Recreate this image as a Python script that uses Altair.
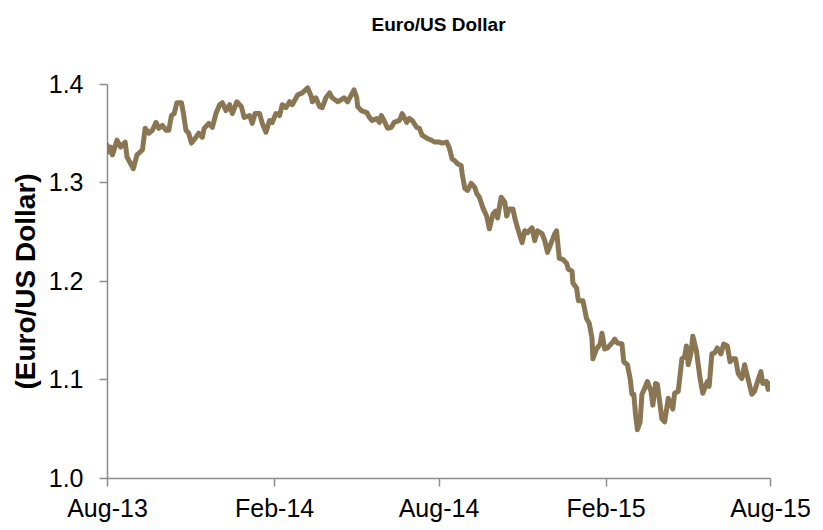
import altair as alt
import pandas as pd

# Days since 2013-08-01
days = [0, 2, 4, 6, 11, 15, 20, 22, 29, 33, 39, 42, 46, 50, 54, 57, 61, 65, 68, 71,
        74, 77, 82, 84, 87, 90, 93, 98, 101, 105, 107, 112, 116, 120, 124, 127, 131, 135, 138, 143,
        148, 151, 157, 160, 163, 168, 171, 175, 179, 182, 186, 190, 193, 197, 201, 204, 210, 215, 221, 225,
        226, 230, 234, 237, 241, 245, 248, 254, 258, 261, 265, 269, 272, 275, 276, 280, 286, 289, 292, 297,
        300, 302, 305, 309, 313, 316, 322, 325, 330, 333, 336, 341, 344, 347, 352, 357, 361, 366, 369, 374,
        377, 380, 383, 386, 390, 391, 394, 397, 401, 405, 407, 410, 414, 418, 421, 425, 428, 430, 434, 438,
        440, 443, 447, 449, 452, 457, 460, 463, 468, 471, 474, 479, 482, 485, 490, 493, 495, 498, 502, 506,
        508, 512, 513, 517, 519, 524, 528, 531, 534, 535, 539, 543, 545, 548, 551, 556, 559, 562, 567, 569,
        573, 576, 578, 580, 582, 584, 587, 589, 592, 595, 599, 601, 604, 606, 611, 614, 618, 621, 623, 625,
        629, 633, 636, 638, 640, 643, 645, 649, 653, 656, 661, 663, 666, 669, 672, 676, 679, 683, 686, 689,
        692, 695, 699, 702, 706, 710, 713, 717, 720, 722, 726, 728, 730]

rate = [1.338, 1.331, 1.336, 1.328, 1.343, 1.336, 1.341, 1.326, 1.314, 1.328, 1.333, 1.355, 1.350, 1.353, 1.361, 1.355, 1.358, 1.353, 1.353, 1.368,
        1.370, 1.381, 1.381, 1.371, 1.353, 1.350, 1.340, 1.346, 1.350, 1.346, 1.355, 1.360, 1.356, 1.370, 1.379, 1.381, 1.373, 1.379, 1.370, 1.382,
        1.377, 1.366, 1.368, 1.360, 1.370, 1.370, 1.360, 1.351, 1.363, 1.361, 1.370, 1.368, 1.379, 1.376, 1.382, 1.379, 1.389, 1.391, 1.396, 1.387,
        1.382, 1.386, 1.377, 1.376, 1.386, 1.391, 1.386, 1.382, 1.384, 1.386, 1.382, 1.389, 1.394, 1.386, 1.377, 1.373, 1.371, 1.366, 1.363, 1.365,
        1.361, 1.368, 1.363, 1.355, 1.356, 1.361, 1.363, 1.370, 1.361, 1.365, 1.363, 1.356, 1.355, 1.348, 1.345, 1.343, 1.341, 1.341, 1.340, 1.341,
        1.335, 1.324, 1.322, 1.319, 1.317, 1.309, 1.294, 1.292, 1.299, 1.295, 1.289, 1.285, 1.274, 1.266, 1.253, 1.268, 1.271, 1.264, 1.285, 1.280,
        1.266, 1.273, 1.273, 1.264, 1.254, 1.239, 1.251, 1.249, 1.254, 1.241, 1.251, 1.248, 1.241, 1.229, 1.241, 1.248, 1.251, 1.223, 1.222, 1.218,
        1.212, 1.210, 1.198, 1.193, 1.180, 1.180, 1.162, 1.157, 1.142, 1.121, 1.131, 1.136, 1.147, 1.131, 1.132, 1.137, 1.141, 1.137, 1.136, 1.118,
        1.115, 1.101, 1.085, 1.085, 1.064, 1.049, 1.057, 1.085, 1.091, 1.098, 1.088, 1.074, 1.096, 1.095, 1.060, 1.057, 1.081, 1.074, 1.070, 1.086,
        1.088, 1.121, 1.123, 1.134, 1.115, 1.127, 1.144, 1.129, 1.101, 1.086, 1.098, 1.093, 1.126, 1.127, 1.132, 1.126, 1.136, 1.134, 1.118, 1.121,
        1.121, 1.106, 1.101, 1.115, 1.100, 1.085, 1.088, 1.100, 1.108, 1.096, 1.098, 1.090, 1.096]

tick_dates = ["2013-08-01", "2014-02-01", "2014-08-01", "2015-02-01", "2015-08-01"]
tick_labels = ["Aug-13", "Feb-14", "Aug-14", "Feb-15", "Aug-15"]
y_ticks = [1.0, 1.1, 1.2, 1.3, 1.4]

start = pd.Timestamp("2013-08-01")
df = pd.DataFrame({
    "date": [(start + pd.Timedelta(days=d)).strftime("%Y-%m-%d") for d in days],
    "rate": rate,
})

FONT = "Liberation Sans"
AXIS_COLOR = "#8c8c8c"

label_expr = "{" + ", ".join(
    f"'{d}': '{l}'" for d, l in zip(tick_dates, tick_labels)
) + "}[utcFormat(datum.value, '%Y-%m-%d')]"

chart = alt.Chart(df).mark_line(
    color="#8B7654", strokeWidth=5, strokeJoin="round", strokeCap="round", clip=True
).encode(
    x=alt.X("date:T",
            scale=alt.Scale(type="utc", domain=[tick_dates[0], tick_dates[-1]]),
            axis=alt.Axis(title=None, values=tick_dates, labelExpr=label_expr,
                          labelFontSize=25, labelPadding=10, tickSize=8,
                          labelFlush=False, labelOverlap=False)),
    y=alt.Y("rate:Q",
            scale=alt.Scale(domain=[1.0, 1.4], nice=False, zero=False),
            axis=alt.Axis(title="(Euro/US Dollar)", values=y_ticks, format=".1f",
                          labelFontSize=25, labelPadding=16, tickSize=8,
                          titleFontSize=28, titleFontWeight="bold", titlePadding=8)),
).properties(
    width=663,
    height=394,
    title=alt.Title("Euro/US Dollar", fontSize=19, fontWeight="bold", font=FONT,
                    anchor="middle", offset=37, color="black"),
    autosize=alt.AutoSizeParams(type="none"),
    padding={"left": 99, "top": 76, "right": 40, "bottom": 50},
).configure_view(
    stroke=None
).configure_axis(
    grid=False,
    domainColor=AXIS_COLOR,
    domainWidth=1.5,
    tickColor=AXIS_COLOR,
    tickWidth=1.5,
    labelFont=FONT,
    titleFont=FONT,
    labelColor="black",
    titleColor="black",
)

chart.save("out.html", embed_options={"renderer": "svg", "actions": False})
